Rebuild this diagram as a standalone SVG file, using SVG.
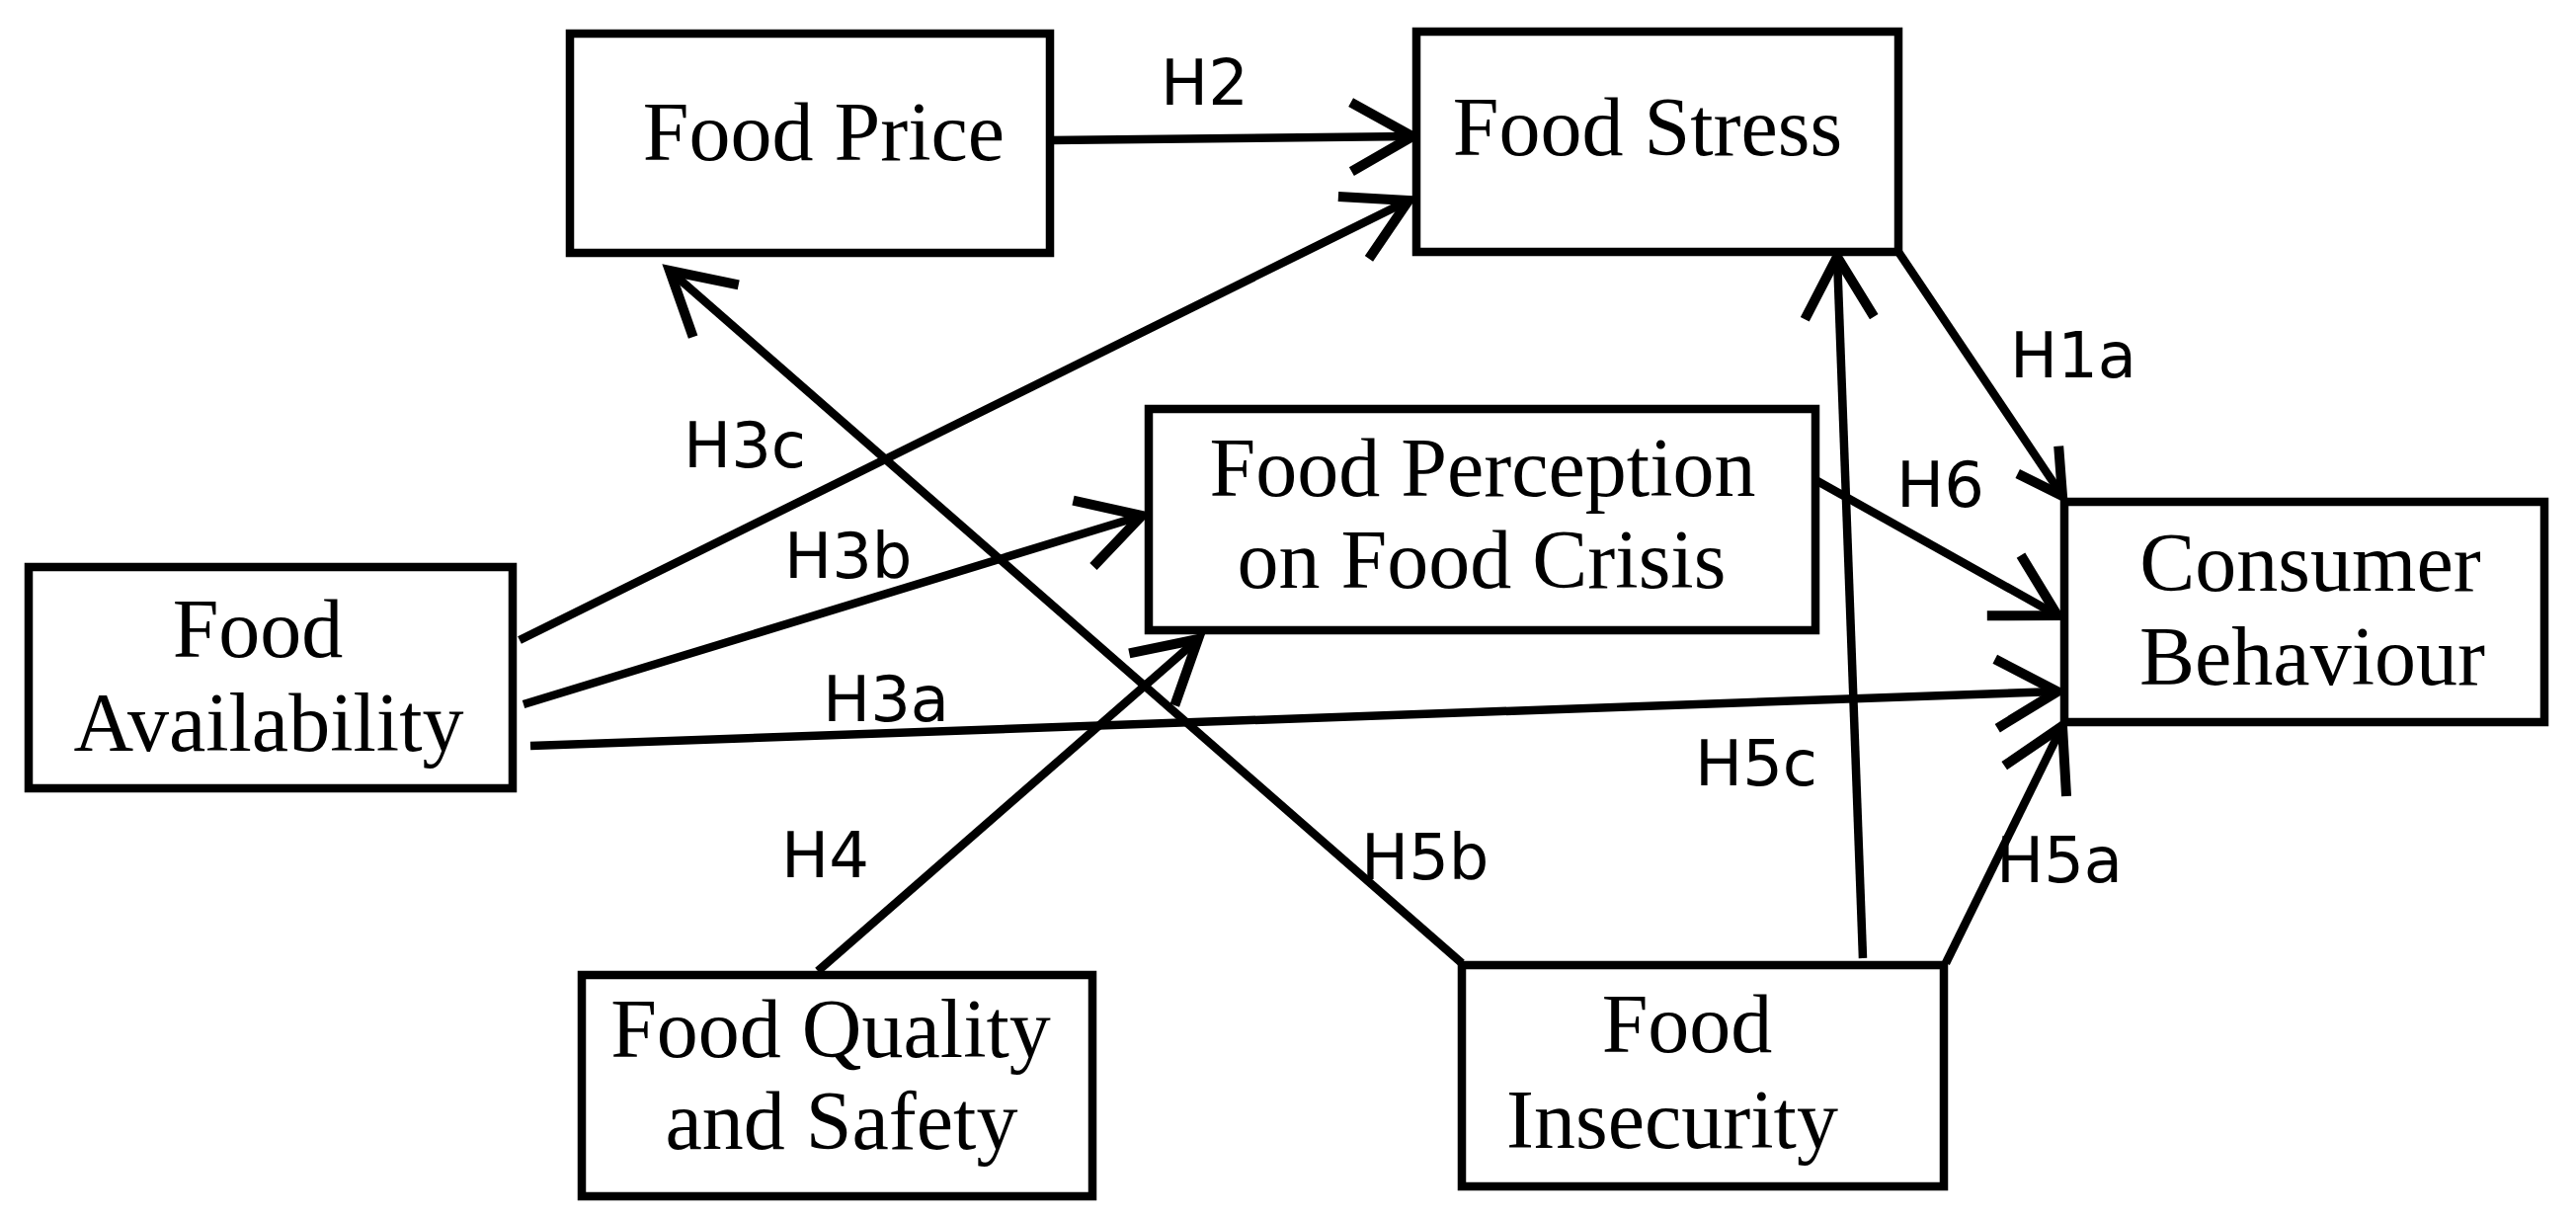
<svg xmlns="http://www.w3.org/2000/svg" width="2608" height="1234" viewBox="0 0 2608 1234">
<style>
.box{fill:#fff;stroke:#000;stroke-width:8.5}
.t{font-family:"Liberation Serif","Times New Roman",serif;font-size:84px;fill:#000;text-anchor:middle}
.lbl{font-family:"DejaVu Sans",sans-serif;font-size:64px;fill:#000}
.c{stroke:#000;stroke-width:8.5;fill:none}
</style>
<defs>
<marker id="ah" markerUnits="userSpaceOnUse" viewBox="-80 -50 100 100" markerWidth="100" markerHeight="100" refX="0" refY="0" orient="auto" overflow="visible">
<path d="M -62 -35 L 0 0 L -62 35" fill="none" stroke="#000" stroke-width="10" stroke-linejoin="miter"/>
</marker>
<marker id="ahs" markerUnits="userSpaceOnUse" viewBox="-80 -50 100 100" markerWidth="100" markerHeight="100" refX="0" refY="0" orient="auto" overflow="visible">
<path d="M -44 -25 L 0 0 L -44 25" fill="none" stroke="#000" stroke-width="10" stroke-linejoin="miter"/>
</marker>
</defs>
<rect width="2608" height="1234" fill="#fff"/>
<g id="connectors">
<line class="c" x1="1063" y1="142" x2="1430" y2="138" marker-end="url(#ah)"/>
<line class="c" x1="526" y1="648" x2="1426" y2="203" marker-end="url(#ah)"/>
<line class="c" x1="530" y1="713" x2="1156" y2="522" marker-end="url(#ah)"/>
<line class="c" x1="537" y1="755" x2="2083" y2="700" marker-end="url(#ah)"/>
<line class="c" x1="828" y1="983" x2="1213" y2="647" marker-end="url(#ah)"/>
<line class="c" x1="1480" y1="975" x2="678" y2="274" marker-end="url(#ah)"/>
<line class="c" x1="1886" y1="970" x2="1860" y2="260" marker-end="url(#ah)"/>
<line class="c" x1="1970" y1="975" x2="2088" y2="735" marker-end="url(#ah)"/>
<line class="c" x1="1840" y1="487" x2="2083" y2="623" marker-end="url(#ah)"/>
<line class="c" x1="1922" y1="255" x2="2088" y2="502" marker-end="url(#ahs)"/>
<text class="lbl" x="1175" y="106">H2</text>
<text class="lbl" x="2035" y="382">H1a</text>
<text class="lbl" x="692" y="473">H3c</text>
<text class="lbl" x="1920" y="513">H6</text>
<text class="lbl" x="794" y="585">H3b</text>
<text class="lbl" x="833" y="730">H3a</text>
<text class="lbl" x="1716" y="795">H5c</text>
<text class="lbl" x="791" y="888">H4</text>
<text class="lbl" x="1378" y="890">H5b</text>
<text class="lbl" x="2021" y="893">H5a</text>
</g>
<g id="food-price">
<rect class="box" x="577" y="34" width="486" height="222"/>
<text class="t" x="834" y="162">Food Price</text>
</g>
<g id="food-stress">
<rect class="box" x="1434" y="32" width="488" height="223"/>
<text class="t" x="1668" y="157">Food Stress</text>
</g>
<g id="food-perception">
<rect class="box" x="1163" y="414" width="675" height="224"/>
<text class="t" x="1501" y="502">Food Perception</text>
<text class="t" x="1500" y="595">on Food Crisis</text>
</g>
<g id="consumer-behaviour">
<rect class="box" x="2090" y="508" width="486" height="223"/>
<text class="t" x="2339" y="598">Consumer</text>
<text class="t" x="2341" y="693">Behaviour</text>
</g>
<g id="food-availability">
<rect class="box" x="29" y="574" width="490" height="224"/>
<text class="t" x="261" y="665">Food</text>
<text class="t" x="272" y="760">Availability</text>
</g>
<g id="food-quality">
<rect class="box" x="589" y="987" width="517" height="224"/>
<text class="t" x="841" y="1070">Food Quality</text>
<text class="t" x="852" y="1163">and Safety</text>
</g>
<g id="food-insecurity">
<rect class="box" x="1480" y="977" width="488" height="224"/>
<text class="t" x="1708" y="1065">Food</text>
<text class="t" x="1693" y="1162">Insecurity</text>
</g>
</svg>
